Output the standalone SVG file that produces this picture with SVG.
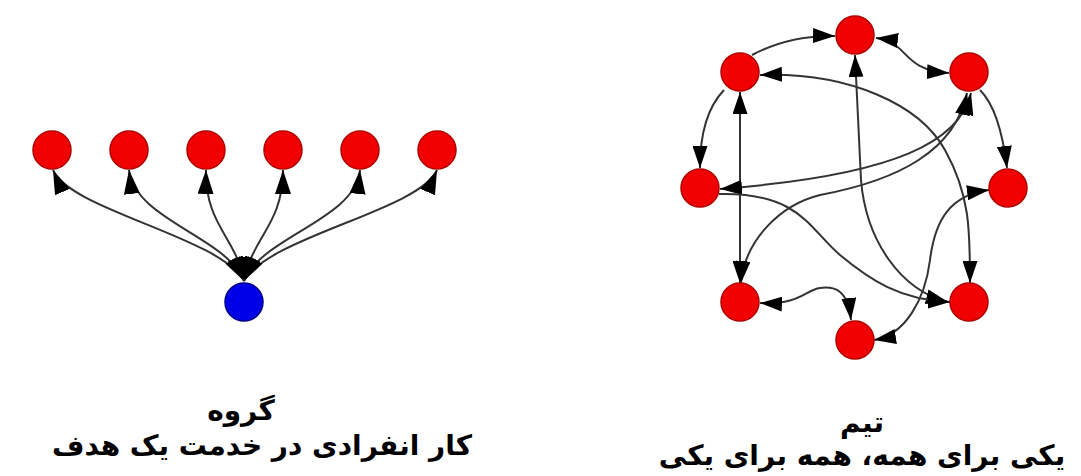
<svg xmlns="http://www.w3.org/2000/svg" width="1081" height="476" viewBox="0 0 1081 476">
<style>
.red{fill:#f00000;stroke:#b00000;stroke-width:1.5}
.blue{fill:#0000e6;stroke:#00008a;stroke-width:1.5}
.e{fill:none;stroke:#333;stroke-width:2}
.g{marker-start:url(#ahg);marker-end:url(#ahg)}
.cap{font-family:"DejaVu Sans","Noto Sans",sans-serif;font-weight:bold;font-size:28px;fill:#000}
</style>
<defs>
<marker id="ah" viewBox="0 0 22 15" refX="22" refY="7.5" markerWidth="22" markerHeight="15" markerUnits="userSpaceOnUse" orient="auto-start-reverse">
<path d="M0,0 L22,7.5 L0,15 z" fill="#000"/>
</marker>
<marker id="ahg" viewBox="0 0 24 16" refX="24" refY="8" markerWidth="24" markerHeight="16" markerUnits="userSpaceOnUse" orient="auto-start-reverse">
<path d="M0,0 L24,8 L0,16 z" fill="#000"/>
</marker>
</defs>
<rect width="1081" height="476" fill="#fff"/>
<g id="connectors">
<!-- group graph -->
<path class="e g" d="M244,281 C220,237 70,210 53,170"/>
<path class="e g" d="M244,281 C227,237 135,220 129,170"/>
<path class="e g" d="M244,281 C236,237 205,225 206,170"/>
<path class="e g" d="M244,281 C252,237 283,225 283,170"/>
<path class="e g" d="M244,281 C261,237 355,220 360,170"/>
<path class="e g" d="M244,281 C268,237 420,210 437,170"/>
<!-- team graph -->
<path class="e" marker-end="url(#ah)" d="M752,55 Q790,35 835,36"/>
<path class="e" marker-start="url(#ah)" marker-end="url(#ah)" d="M876,38 C910,42 900,70 949,73"/>
<path class="e" marker-start="url(#ah)" marker-end="url(#ah)" d="M760,75 C850,72 920,105 945,150 S970,230 970,283"/>
<path class="e" marker-start="url(#ah)" marker-end="url(#ah)" d="M855,55 L861,180 C866,240 900,290 948,302"/>
<path class="e" marker-start="url(#ah)" marker-end="url(#ah)" d="M740,92 L740,283"/>
<path class="e" marker-end="url(#ah)" d="M724,90 Q700,115 700,168"/>
<path class="e" marker-start="url(#ah)" marker-end="url(#ah)" d="M971,93 C960,140 900,175 720,189"/>
<path class="e" marker-start="url(#ah)" marker-end="url(#ah)" d="M967,93 C955,150 900,180 820,195 C780,205 745,240 741,283"/>
<path class="e" marker-end="url(#ah)" d="M980,90 Q1000,110 1007,168"/>
<path class="e" marker-start="url(#ah)" marker-end="url(#ah)" d="M874,340 C905,335 925,300 930,260 C935,220 950,195 989,190"/>
<path class="e" marker-end="url(#ah)" d="M719,194 C800,192 810,230 840,255 C870,280 900,300 950,302"/>
<path class="e" marker-start="url(#ah)" marker-end="url(#ah)" d="M760,303 C800,305 805,290 820,288 C835,286 848,290 851,320"/>
</g>
<g id="group-nodes">
<circle id="g1" class="red" cx="52" cy="150" r="19"/>
<circle id="g2" class="red" cx="129" cy="150" r="19"/>
<circle id="g3" class="red" cx="206" cy="150" r="19"/>
<circle id="g4" class="red" cx="283" cy="150" r="19"/>
<circle id="g5" class="red" cx="360" cy="150" r="19"/>
<circle id="g6" class="red" cx="437" cy="150" r="19"/>
<circle id="g0" class="blue" cx="244" cy="302" r="19"/>
</g>
<g id="team-nodes">
<circle id="t-top" class="red" cx="855" cy="35" r="19"/>
<circle id="t-ul" class="red" cx="740" cy="72" r="19"/>
<circle id="t-ur" class="red" cx="969" cy="72" r="19"/>
<circle id="t-l" class="red" cx="700" cy="188" r="19"/>
<circle id="t-r" class="red" cx="1008" cy="188" r="19"/>
<circle id="t-ll" class="red" cx="740" cy="302" r="19"/>
<circle id="t-lr" class="red" cx="969" cy="302" r="19"/>
<circle id="t-b" class="red" cx="855" cy="340" r="19"/>
</g>
<g id="captions">
<text class="cap" x="241" y="420" text-anchor="middle" direction="rtl">گروه</text>
<text class="cap" x="262" y="455" text-anchor="middle" direction="rtl">کار انفرادی در خدمت یک هدف</text>
<text class="cap" x="862" y="432" text-anchor="middle" direction="rtl">تیم</text>
<text class="cap" x="862" y="465" text-anchor="middle" direction="rtl">یکی برای همه، همه برای یکی</text>
</g>
</svg>
